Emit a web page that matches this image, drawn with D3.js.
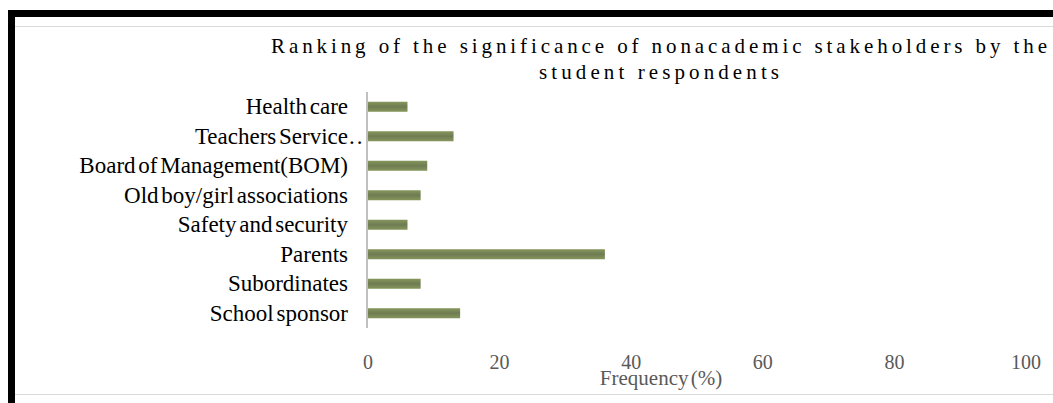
<!DOCTYPE html>
<html>
<head>
<meta charset="utf-8">
<script src="https://cdn.jsdelivr.net/npm/d3@7"></script>
<style>
  html, body { margin: 0; padding: 0; background: #fff; }
  svg { display: block; }
</style>
</head>
<body>
<script>
// Stakeholder categories (top to bottom) and their frequency (%)
const categories = [
  "Health care",
  "Teachers Service. .",
  "Board of Management(BOM)",
  "Old boy/girl associations",
  "Safety and security",
  "Parents",
  "Subordinates",
  "School sponsor"
];
const frequency = [6, 13, 9, 8, 6, 36, 8, 14];
const xTicks = [0, 20, 40, 60, 80, 100];
const titleLines = [
  "Ranking of the significance of nonacademic stakeholders by the",
  "student respondents"
];
const xTitle = "Frequency (%)";

const W = 1053, H = 403;
const svg = d3.select("body").append("svg").attr("width", W).attr("height", H);

// Bar gradient
const defs = svg.append("defs");
const grad = defs.append("linearGradient").attr("id", "barGrad")
  .attr("x1", 0).attr("y1", 0).attr("x2", 0).attr("y2", 1);
grad.append("stop").attr("offset", "0%").attr("stop-color", "#86975c");
grad.append("stop").attr("offset", "50%").attr("stop-color", "#6f7b52");
grad.append("stop").attr("offset", "100%").attr("stop-color", "#86975c");

// Frame: thick black top and left edges, thin grey rules
svg.append("rect").attr("x", 8).attr("y", 10).attr("width", W - 8).attr("height", 7).attr("fill", "#000");
svg.append("rect").attr("x", 8).attr("y", 10).attr("width", 7).attr("height", H - 10).attr("fill", "#000");
svg.append("line").attr("x1", 15).attr("x2", W).attr("y1", 26.5).attr("y2", 26.5)
  .attr("stroke", "#d9d9d9").attr("stroke-width", 1);
svg.append("line").attr("x1", 15).attr("x2", W).attr("y1", 394.5).attr("y2", 394.5)
  .attr("stroke", "#d9d9d9").attr("stroke-width", 1);

// Scales
const x = d3.scaleLinear().domain([0, 100]).range([368, 1026]);
const y = d3.scaleBand().domain(categories).range([92, 328]).paddingInner(0.66).paddingOuter(0.33);

// Title
const serif = "'Liberation Serif', 'Times New Roman', serif";
const titleLens = [776, 240];
const titleY = [53, 79];
svg.selectAll("text.title").data(titleLines).enter().append("text")
  .attr("class", "title")
  .attr("x", 659).attr("y", (d, i) => titleY[i])
  .attr("text-anchor", "middle")
  .attr("textLength", (d, i) => titleLens[i])
  .attr("lengthAdjust", "spacing")
  .style("font-family", serif).style("font-size", "21px").attr("fill", "#000")
  .text(d => d);

// Bars
svg.selectAll("rect.bar").data(categories).enter().append("rect")
  .attr("class", "bar")
  .attr("x", x(0))
  .attr("y", d => y(d))
  .attr("width", (d, i) => x(frequency[i]) - x(0))
  .attr("height", y.bandwidth())
  .attr("fill", "url(#barGrad)");

// Vertical axis line
svg.append("line").attr("x1", 367).attr("x2", 367).attr("y1", 92).attr("y2", 328)
  .attr("stroke", "#c0c0c0").attr("stroke-width", 2);

// Category labels
const labelX = 348;
const labelFont = "23px";
const lbl = svg.selectAll("text.cat").data(categories).enter().append("text")
  .attr("class", "cat")
  .attr("y", d => y(d) + y.bandwidth() / 2 + 7.5)
  .style("font-family", serif).style("font-size", labelFont)
  .style("word-spacing", "-3px")
  .attr("fill", "#000");
lbl.each(function(d) {
  const t = d3.select(this);
  const m = d.match(/^(.*?)(\.\s*\.)$/);
  if (m) {
    // truncated label: dots trail past the label edge
    t.attr("x", labelX).attr("text-anchor", "end").text(m[1]);
    svg.append("text").attr("x", labelX + 1).attr("y", t.attr("y"))
      .style("font-family", serif).style("font-size", labelFont)
      .style("letter-spacing", "2px")
      .attr("fill", "#000").text(m[2].replace(/\s/g, ""));
  } else {
    t.attr("x", labelX).attr("text-anchor", "end").text(d);
  }
});

// X tick labels
svg.selectAll("text.tick").data(xTicks).enter().append("text")
  .attr("class", "tick")
  .attr("x", d => x(d)).attr("y", 369)
  .attr("text-anchor", "middle")
  .style("font-family", serif).style("font-size", "20px")
  .attr("fill", "#595959")
  .text(d => d);

// X axis title
svg.append("text").attr("x", 661).attr("y", 385)
  .attr("text-anchor", "middle")
  .style("font-family", serif).style("font-size", "21px")
  .style("word-spacing", "-3px")
  .attr("fill", "#595959")
  .text(xTitle);
</script>
</body>
</html>
